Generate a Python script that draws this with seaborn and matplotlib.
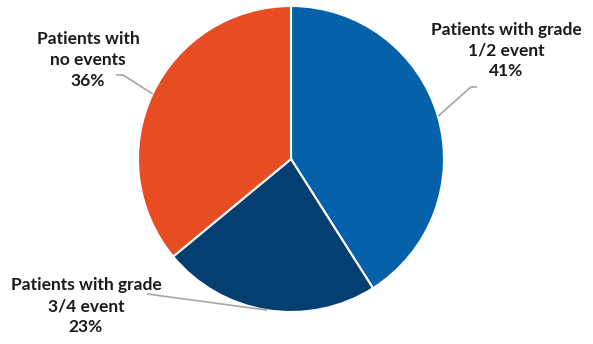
import numpy as np
import matplotlib
matplotlib.use("Agg")
import matplotlib.pyplot as plt
import seaborn as sns

# Share of patients by worst adverse event observed
categories = ["Patients with grade\n1/2 event", "Patients with grade\n3/4 event", "Patients with\nno events"]
shares = [41, 23, 36]
colors = ["#0562AA", "#053F71", "#E84C22"]

sns.set_theme(style="white")
plt.rcParams["font.family"] = ["Lato", "DejaVu Sans"]

W, H = 593, 344
fig = plt.figure(figsize=(W / 100, H / 100), dpi=100)
cx, cy, r = 291, 159, 153
ax = fig.add_axes([(cx - r) / W, (H - cy - r) / H, 2 * r / W, 2 * r / H])

wedges, _ = ax.pie(shares, colors=colors, startangle=90, counterclock=False, radius=1,
                   wedgeprops=dict(edgecolor="white", linewidth=1.5))
ax.set_xlim(-1, 1)
ax.set_ylim(-1, 1)
ax.axis("off")

# label layout: (elbow, end of leader, text centre) per slice
layout = [
    ((1.176, 0.471), (1.216, 0.471), (1.405, 0.712)),
    ((-0.941, -0.882), (-0.941, -0.882), (-1.340, -0.961)),
    ((-1.098, 0.549), (-1.144, 0.549), (-1.327, 0.647)),
]

for w, cat, val, (elbow, end, txt) in zip(wedges, categories, shares, layout):
    mid = np.deg2rad((w.theta1 + w.theta2) / 2)
    x0, y0 = np.cos(mid), np.sin(mid)
    ax.plot([x0, elbow[0], end[0]], [y0, elbow[1], end[1]], color="#A6A6A6",
            lw=1.2, clip_on=False, solid_capstyle="butt")
    ax.text(txt[0], txt[1], f"{cat}\n{val}%", ha="center", va="center",
            fontsize=12.5, fontweight="bold", color="#1a1a1a", linespacing=1.35)

fig.savefig("out.png", dpi=100, facecolor="white")
